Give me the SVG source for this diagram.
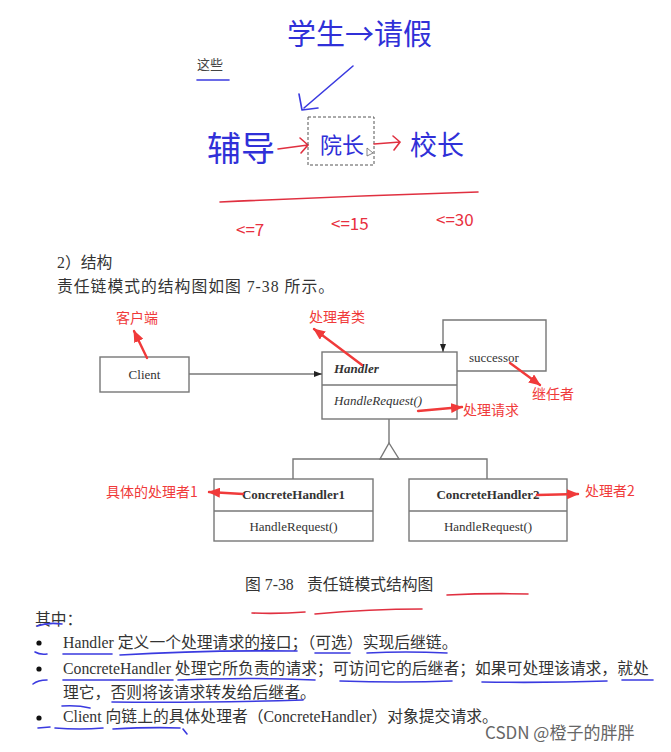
<svg xmlns="http://www.w3.org/2000/svg" width="671" height="752" viewBox="0 0 671 752">
<defs>
<style>
.box{fill:#fff;stroke:#777;stroke-width:1.4}
.ln{fill:none;stroke:#777;stroke-width:1.4}
.uml{font-family:"Liberation Serif","Noto Sans CJK SC",serif;font-size:13px;fill:#333}
.red{font-family:"Noto Sans CJK SC",sans-serif;font-size:14px;fill:#f03a3a}
.ra{fill:none;stroke:#f03a3a;stroke-width:2.4;stroke-linecap:round}
.body{font-family:"Liberation Serif","Noto Sans CJK SC",serif;font-size:15.8px;fill:#333}
.hw{font-family:"Noto Sans CJK SC",sans-serif;fill:#3030d8}
.hwr{font-family:"Noto Sans CJK SC",sans-serif;fill:#e83040}
.bu{fill:none;stroke:#3a3ae0;stroke-width:1.6;stroke-linecap:round}
.rl{fill:none;stroke:#e03040;stroke-width:1.6;stroke-linecap:round}
</style>
<marker id="rh" viewBox="0 0 12 10" refX="11" refY="5" markerWidth="12" markerHeight="10" markerUnits="userSpaceOnUse" orient="auto"><path d="M0,0 L12,5 L0,10 z" fill="#f03a3a"/></marker>
<marker id="ah" viewBox="0 0 8 6" refX="8" refY="3" markerWidth="8" markerHeight="6" markerUnits="userSpaceOnUse" orient="auto"><path d="M0,0 L8,3 L0,6 z" fill="#222"/></marker>
</defs>
<rect width="671" height="752" fill="#fff"/>

<!-- handwriting section -->
<g id="handwriting">
<text x="197" y="69" font-family="Noto Sans CJK SC,sans-serif" font-size="13" fill="#444">这些</text>
<path class="bu" d="M197,80 L229,80" stroke-width="2"/>
<text class="hw" x="287" y="45" font-size="29">学生→请假</text>
<path class="bu" d="M353,66 L304,108 M302,110 L299,94 M302,110 L318,108" stroke-width="2"/>
<text class="hw" x="207" y="161" font-size="34">辅导</text>
<path class="rl" d="M278,149 L308,145 M300,138 L308,145 L301,153" stroke-width="2"/>
<rect x="308" y="117" width="66" height="48" fill="none" stroke="#555" stroke-width="1" stroke-dasharray="3,2"/>
<text class="hw" x="320" y="153" font-size="22">院长</text>
<path d="M367,148 L367,156 L373,153 z" fill="#fff" stroke="#666" stroke-width="0.8"/>
<path class="rl" d="M374,144 L400,142 M393,136 L400,142 L394,150" stroke-width="2"/>
<text class="hw" x="410" y="155" font-size="27">校长</text>
<path class="rl" d="M220,202 Q350,196 478,192" stroke-width="2"/>
<text class="hwr" x="236" y="236" font-size="17">&lt;=7</text>
<text class="hwr" x="331" y="230" font-size="17">&lt;=15</text>
<text class="hwr" x="436" y="226" font-size="17">&lt;=30</text>
</g>

<g id="intro">
<text class="body" x="57" y="268" font-size="17">2）结构</text>
<text class="body" x="57" y="292" font-size="17" letter-spacing="1">责任链模式的结构图如图 7-38 所示。</text>
</g>

<!-- UML nodes -->
<g id="client">
<rect class="box" x="100" y="357" width="89" height="35"/>
<text class="uml" x="144.5" y="379" text-anchor="middle">Client</text>
</g>
<g id="handler">
<rect class="box" x="322" y="352" width="135" height="67"/>
<line class="ln" x1="322" y1="385" x2="457" y2="385"/>
<text class="uml" x="334" y="373" font-weight="bold" font-style="italic">Handler</text>
<text class="uml" x="334" y="405" font-style="italic">HandleRequest()</text>
</g>
<g id="concrete1">
<rect class="box" x="214" y="479" width="159" height="62"/>
<line class="ln" x1="214" y1="511" x2="373" y2="511"/>
<text class="uml" x="293.5" y="499" text-anchor="middle" font-weight="bold">ConcreteHandler1</text>
<text class="uml" x="293.5" y="531" text-anchor="middle">HandleRequest()</text>
</g>
<g id="concrete2">
<rect class="box" x="409" y="479" width="158" height="62"/>
<line class="ln" x1="409" y1="511" x2="567" y2="511"/>
<text class="uml" x="488" y="499" text-anchor="middle" font-weight="bold">ConcreteHandler2</text>
<text class="uml" x="488" y="531" text-anchor="middle">HandleRequest()</text>
</g>

<!-- connectors -->
<g id="connectors">
<line class="ln" x1="189" y1="374" x2="322" y2="374" marker-end="url(#ah)" stroke="#333" stroke-width="1.1"/>
<path class="ln" d="M457,371 L546,371 L546,320 L443,320 L443,352" marker-end="url(#ah)"/>
<text class="uml" x="469" y="362" font-size="12">successor</text>
<path class="ln" d="M389,419 L389,443"/>
<path d="M389,443 L380,459 L399,459 z" fill="#fff" stroke="#777" stroke-width="1.4"/>
<path class="ln" d="M293,479 L293,459 L487,459 L487,479"/>
<!-- red annotation arrows -->
<line class="ra" x1="147" y1="358" x2="134" y2="331" marker-end="url(#rh)"/>
<line class="ra" x1="362" y1="365" x2="314" y2="329" marker-end="url(#rh)"/>
<line class="ra" x1="510" y1="363" x2="540" y2="385" marker-end="url(#rh)"/>
<line class="ra" x1="418" y1="411" x2="462" y2="407" marker-end="url(#rh)"/>
<line class="ra" x1="243" y1="494" x2="209" y2="492" marker-end="url(#rh)"/>
<line class="ra" x1="537" y1="495" x2="578" y2="494" marker-end="url(#rh)"/>
</g>

<g id="labels">
<text class="red" x="116" y="323">客户端</text>
<text class="red" x="309" y="322">处理者类</text>
<text class="red" x="532" y="399">继任者</text>
<text class="red" x="463" y="415">处理请求</text>
<text class="red" x="106" y="497">具体的处理者1</text>
<text class="red" x="585" y="496">处理者2</text>
</g>

<g id="caption">
<text class="body" x="245" y="590" font-size="15" fill="#444">图 7-38</text>
<text class="body" x="307" y="590" font-size="15" fill="#444">责任链模式结构图</text>
<path class="rl" d="M252,613 Q280,614 305,612"/>
<path class="rl" d="M315,614 Q370,609 422,609"/>
<path class="rl" d="M447,595 Q490,593 528,594"/>
</g>

<g id="notes">
<text class="body" x="35" y="625">其中：</text>
<circle cx="39" cy="643" r="2.6" fill="#111"/>
<text class="body" x="63" y="648">Handler 定义一个处理请求的接口；（可选）实现后继链。</text>
<circle cx="39" cy="669" r="2.6" fill="#111"/>
<text class="body" x="63" y="674">ConcreteHandler 处理它所负责的请求；可访问它的后继者；如果可处理该请求，就处</text>
<text class="body" x="63" y="698">理它，否则将该请求转发给后继者。</text>
<circle cx="39" cy="718" r="2.6" fill="#111"/>
<text class="body" x="63" y="722">Client 向链上的具体处理者（ConcreteHandler）对象提交请求。</text>
<path class="bu" d="M37,626 Q48,622 62,624"/>
<path class="bu" d="M35,652 Q40,655 47,654"/>
<path class="bu" d="M63,654 L112,654"/>
<path class="bu" d="M120,655 Q200,650 297,651"/>
<path class="bu" d="M315,653 L350,653"/>
<path class="bu" d="M367,653 Q405,651 447,653"/>
<path class="bu" d="M33,684 Q38,680 47,680"/>
<path class="bu" d="M63,680 L173,680"/>
<path class="bu" d="M178,680 Q250,677 315,680"/>
<path class="bu" d="M340,681 Q400,683 452,681"/>
<path class="bu" d="M482,682 Q545,683 607,681"/>
<path class="bu" d="M622,680 L653,680"/>
<path class="bu" d="M62,706 Q78,705 90,708"/>
<path class="bu" d="M112,702 Q200,703 303,700"/>
<path class="bu" d="M38,728 L50,727"/>
<path class="bu" d="M55,728 Q80,730 103,728"/>
<path class="bu" d="M113,729 Q150,727 180,728 M183,729 L187,734"/>
</g>

<text x="485" y="739" font-family="Noto Sans CJK SC,sans-serif" font-size="17" fill="#666">CSDN @橙子的胖胖</text>
</svg>
